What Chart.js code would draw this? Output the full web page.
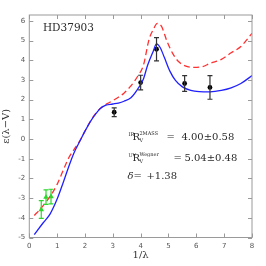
<!DOCTYPE html>
<html>
<head>
<meta charset="utf-8">
<script src="https://cdn.jsdelivr.net/npm/chart.js@4"></script>
<style>
  html, body { margin: 0; padding: 0; background: #fff; }
  #wrap { width: 266px; height: 266px; }
</style>
</head>
<body>
<div id="wrap"><canvas id="c" width="266" height="266"></canvas></div>
<script>
// modelo R_V(IR) - linea azul
const blueX = [0.18, 0.5, 0.75, 1.0, 1.2, 1.4, 1.6, 1.83, 2.0, 2.2, 2.4, 2.55, 2.75, 3.0, 3.2, 3.4, 3.65, 3.9, 4.1, 4.25, 4.45, 4.57, 4.7, 4.85, 5.05, 5.25, 5.5, 5.8, 6.1, 6.5, 6.9, 7.25, 7.6, 8.0];
const blueY = [-4.85, -4.25, -3.8, -3.05, -2.28, -1.47, -0.72, -0.07, 0.4, 0.9, 1.3, 1.55, 1.72, 1.78, 1.83, 1.92, 2.1, 2.55, 3.05, 3.75, 4.45, 4.83, 4.65, 4.15, 3.45, 2.98, 2.65, 2.47, 2.41, 2.4, 2.47, 2.6, 2.82, 3.22];
// modelo R_V(UV) - linea roja discontinua
const redX = [0.18, 0.4, 0.6, 0.8, 1.0, 1.2, 1.4, 1.6, 1.83, 2.0, 2.2, 2.4, 2.6, 2.8, 3.0, 3.2, 3.4, 3.65, 3.9, 4.1, 4.3, 4.45, 4.6, 4.75, 4.95, 5.15, 5.35, 5.6, 5.9, 6.2, 6.5, 6.9, 7.25, 7.6, 8.0];
const redY = [-3.88, -3.55, -3.2, -2.8, -2.3, -1.65, -1.0, -0.55, -0.05, 0.4, 0.92, 1.33, 1.62, 1.8, 1.95, 2.12, 2.33, 2.7, 3.2, 3.75, 5.05, 5.55, 5.87, 5.72, 4.95, 4.35, 3.95, 3.72, 3.64, 3.67, 3.85, 4.05, 4.38, 4.7, 5.37];
// observaciones UV (negro) e IR (verde)
const obsX = [3.05, 4.0, 4.57, 5.58, 6.49];
const obsY = [1.36, 2.87, 4.56, 2.82, 2.62];
const obsErr = [0.22, 0.37, 0.59, 0.4, 0.6];
const irX = [0.43, 0.6, 0.78];
const irY = [-3.58, -2.95, -2.92];
const irErr = [0.45, 0.37, 0.37];
// ejes
const xTicks = [0, 1, 2, 3, 4, 5, 6, 7, 8];
const yTicks = [-5, -4, -3, -2, -1, 0, 1, 2, 3, 4, 5, 6];
const starName = 'HD37903';
const rvIR = '4.00±0.58';
const rvUV = '5.04±0.48';
const deltaText = '+1.38';

const pts = (xs, ys) => xs.map((x, i) => ({ x: x, y: ys[i] }));

// barras de error
const errorBars = {
  id: 'errorBars',
  afterDatasetsDraw(chart) {
    const ctx = chart.ctx, xs = chart.scales.x, ys = chart.scales.y;
    function draw(xv, yv, ev, color) {
      ctx.save();
      ctx.strokeStyle = color;
      ctx.lineWidth = 1.2;
      xv.forEach((x, i) => {
        const px = xs.getPixelForValue(x);
        const top = ys.getPixelForValue(yv[i] + ev[i]);
        const bot = ys.getPixelForValue(yv[i] - ev[i]);
        ctx.beginPath();
        ctx.moveTo(px, top); ctx.lineTo(px, bot);
        ctx.moveTo(px - 2.5, top); ctx.lineTo(px + 2.5, top);
        ctx.moveTo(px - 2.5, bot); ctx.lineTo(px + 2.5, bot);
        ctx.stroke();
      });
      ctx.restore();
    }
    draw(obsX, obsY, obsErr, '#333');
    draw(irX, irY, irErr, '#2ed82e');
  }
};

// marco y marcas hacia dentro en los cuatro lados
const frame = {
  id: 'frame',
  afterDraw(chart) {
    const ctx = chart.ctx, a = chart.chartArea, xs = chart.scales.x, ys = chart.scales.y;
    ctx.save();
    ctx.strokeStyle = '#9a9a9a';
    ctx.lineWidth = 1;
    ctx.strokeRect(a.left, a.top, a.right - a.left, a.bottom - a.top);
    ctx.beginPath();
    xTicks.forEach(v => {
      const p = Math.round(xs.getPixelForValue(v)) + 0.5;
      ctx.moveTo(p, a.bottom); ctx.lineTo(p, a.bottom - 4);
      ctx.moveTo(p, a.top); ctx.lineTo(p, a.top + 4);
    });
    yTicks.forEach(v => {
      const p = Math.round(ys.getPixelForValue(v)) + 0.5;
      ctx.moveTo(a.left, p); ctx.lineTo(a.left + 4, p);
      ctx.moveTo(a.right, p); ctx.lineTo(a.right - 4, p);
    });
    ctx.stroke();
    ctx.restore();
  }
};

// textos: nombre de la estrella y valores de R_V
const labels = {
  id: 'labels',
  afterDraw(chart) {
    const ctx = chart.ctx, xs = chart.scales.x, ys = chart.scales.y;
    const big = '10px "DejaVu Serif"';
    const small = '5px "DejaVu Serif"';
    ctx.save();
    ctx.fillStyle = '#2a2a2a';
    ctx.textBaseline = 'alphabetic';
    ctx.textAlign = 'left';

    ctx.font = '10.5px "DejaVu Serif"';
    ctx.fillText(starName, xs.getPixelForValue(0.49), ys.getPixelForValue(5.67) + 4);

    const x0 = xs.getPixelForValue(3.56);
    function row(yv, pre, sup, rest, eqX, valX) {
      const by = ys.getPixelForValue(yv) + 4;
      ctx.font = small; ctx.fillText(pre, x0, by - 4);
      ctx.font = big; ctx.fillText('R', x0 + 4, by);
      ctx.font = small; ctx.fillText(sup, x0 + 11, by - 5);
      ctx.fillText('V', x0 + 11, by + 2);
      ctx.font = big; ctx.fillText('=', x0 + eqX, by);
      ctx.fillText(rest, x0 + valX, by);
    }
    row(0.13, 'IR', '2MASS', rvIR, 38, 53);
    row(-0.89, 'UV', 'Wegner', rvUV, 45, 56);

    const by3 = ys.getPixelForValue(-1.85) + 4;
    ctx.font = 'italic 10px "DejaVu Serif"';
    ctx.fillText('δ', x0 - 1, by3);
    ctx.font = big;
    ctx.fillText('=', x0 + 5, by3);
    ctx.fillText(deltaText, x0 + 18, by3);
    ctx.restore();
  }
};

const ctx = document.getElementById('c').getContext('2d');
new Chart(ctx, {
  type: 'scatter',
  data: {
    datasets: [
      {
        data: pts(blueX, blueY), showLine: true, pointRadius: 0,
        borderColor: '#2020ff', borderWidth: 1.3, cubicInterpolationMode: 'monotone'
      },
      {
        data: pts(redX, redY), showLine: true, pointRadius: 0,
        borderColor: '#ff3030', borderWidth: 1.3, borderDash: [6, 3.5], cubicInterpolationMode: 'monotone'
      },
      {
        data: pts(obsX, obsY), pointRadius: 2.4, pointStyle: 'circle',
        backgroundColor: '#000', borderColor: '#000', borderWidth: 0
      },
      {
        data: pts(irX, irY), pointRadius: 3.2, pointStyle: 'triangle',
        backgroundColor: '#2ed82e', borderColor: '#2ed82e', borderWidth: 0
      }
    ]
  },
  options: {
    responsive: false,
    animation: false,
    events: [],
    layout: { padding: { top: 15, right: 14, left: 0, bottom: 5 } },
    plugins: { legend: { display: false }, tooltip: { enabled: false } },
    scales: {
      x: {
        type: 'linear', min: 0, max: 8,
        afterBuildTicks: s => { s.ticks = xTicks.map(v => ({ value: v })); },
        afterFit: s => { s.height = 23.5; },
        grid: { display: false, drawTicks: false },
        border: { display: false },
        ticks: { padding: 4, color: '#555', font: { size: 7, family: 'DejaVu Sans' } },
        title: { display: true, text: '1/λ', color: '#333', padding: { top: 1, bottom: 0 }, font: { size: 10, family: 'DejaVu Serif' } }
      },
      y: {
        type: 'linear', min: -5, max: 6.3,
        afterBuildTicks: s => { s.ticks = yTicks.map(v => ({ value: v })); },
        afterFit: s => { s.width = 29.3; },
        grid: { display: false, drawTicks: false },
        border: { display: false },
        ticks: { padding: 4, color: '#555', font: { size: 7, family: 'DejaVu Sans' } },
        title: { display: true, text: 'ε(λ−V)', color: '#333', padding: { top: 0, bottom: 0 }, font: { size: 10, family: 'DejaVu Serif' } }
      }
    }
  },
  plugins: [errorBars, frame, labels]
});
</script>
</body>
</html>
